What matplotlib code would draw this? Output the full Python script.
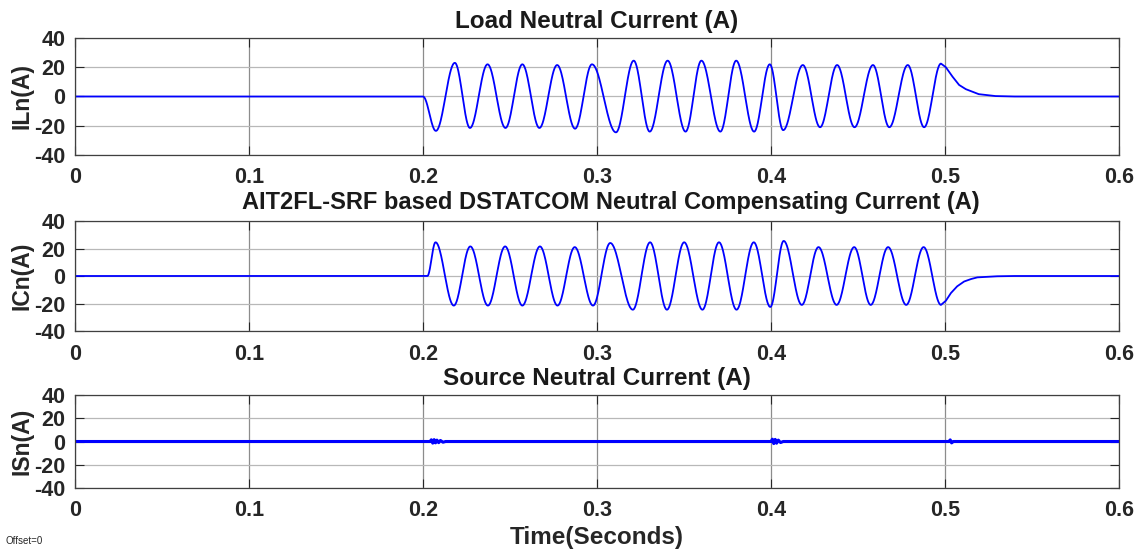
import matplotlib
matplotlib.use("Agg")
import matplotlib.pyplot as plt
import numpy as np

plt.rcParams['font.family'] = ['Liberation Sans', 'DejaVu Sans']

# ---- data (extrema of each half cycle) ----
x_ticks = [0, 0.1, 0.2, 0.3, 0.4, 0.5, 0.6]
x_tick_labels = ['0', '0.1', '0.2', '0.3', '0.4', '0.5', '0.6']
y_ticks = [-40, -20, 0, 20, 40]
y_tick_labels = ['-40', '-20', '0', '20', '40']

# load neutral current: peak times (s) and peak values (A)
iln_peak_t = [0.2, 0.2074, 0.2183, 0.2270, 0.2371, 0.2474, 0.2571, 0.2669, 0.2771,
              0.2874, 0.2971, 0.3109, 0.3211, 0.3303, 0.3406, 0.3509, 0.3600, 0.3709,
              0.3800, 0.3903, 0.3993, 0.4070, 0.4183, 0.4282, 0.4380, 0.4480, 0.4586,
              0.4680, 0.4786, 0.4880, 0.4977]
iln_peak_v = [0, -23.5, 23, -21.5, 22, -21.5, 22, -21.5, 21.5,
              -22, 22, -24.5, 24.5, -24, 24.5, -24, 24.5, -24,
              24.5, -24, 22, -23, 21.5, -21, 21.5, -21, 21.5,
              -21, 21.5, -21, 22.5]
# decay after the load is removed
iln_tail_t = [0.5005, 0.5043, 0.5081, 0.5120, 0.5194, 0.5290, 0.5400, 0.6]
iln_tail_v = [20, 13.6, 7.9, 5.0, 1.6, 0.3, 0, 0]

# DSTATCOM neutral compensating current
icn_peak_t = [0.2025, 0.2072, 0.2177, 0.2272, 0.2373, 0.2472, 0.2571, 0.2672, 0.2773,
              0.2872, 0.2977, 0.3076, 0.3206, 0.3305, 0.3402, 0.3501, 0.3606, 0.3701,
              0.3802, 0.3901, 0.3996, 0.4073, 0.4177, 0.4273, 0.4377, 0.4478, 0.4573,
              0.4673, 0.4777, 0.4877, 0.4977]
icn_peak_v = [0, 24.5, -21.5, 21.5, -21.5, 21.5, -21.5, 21.5, -21.5,
              21, -21.5, 24, -24.5, 24.5, -24.5, 24.5, -24.5, 24.5,
              -24.5, 24.5, -22.5, 25.5, -21, 21, -21, 21, -21,
              21, -21, 21, -21]
icn_tail_t = [0.5005, 0.5034, 0.5070, 0.5110, 0.5150, 0.5186, 0.5300, 0.5400, 0.6]
icn_tail_v = [-18, -12.4, -7.5, -4, -2.2, -1, -0.2, 0, 0]

# source neutral current: flat, small switching bursts
isn_t = [0, 0.2040, 0.2048, 0.2056, 0.2064, 0.2072, 0.2080, 0.2090, 0.2100, 0.2115, 0.2130,
         0.4000, 0.4008, 0.4016, 0.4024, 0.4032, 0.4042, 0.4055, 0.4070,
         0.5022, 0.5030, 0.5038, 0.5048, 0.6]
isn_v = [0, 0, 1.5, -1.4, 1.6, -1.2, 1.2, -1.0, 0.9, -0.6, 0,
         0, 2.0, -1.8, 1.8, -1.5, 1.2, -0.9, 0,
         0, 1.4, -1.2, 0, 0]


def build(peak_t, peak_v, tail_t, tail_v):
    # join successive peaks with half-cosine arcs, then append the decay
    t, v = [0.0], [0.0]
    s = np.linspace(0, 1, 40)[1:]
    for i in range(len(peak_t) - 1):
        t.extend(peak_t[i] + (peak_t[i + 1] - peak_t[i]) * s)
        v.extend(peak_v[i] + (peak_v[i + 1] - peak_v[i]) * (1 - np.cos(np.pi * s)) / 2)
    t.extend(tail_t)
    v.extend(tail_v)
    return np.array(t), np.array(v)


iln_t, iln_v = build(iln_peak_t, iln_peak_v, iln_tail_t, iln_tail_v)
icn_t, icn_v = build(icn_peak_t, icn_peak_v, icn_tail_t, icn_tail_v)

W, H = 1143, 549
fig = plt.figure(figsize=(W / 100, H / 100), dpi=100)


def add_axes(top, bottom):
    return fig.add_axes([75 / W, 1 - bottom / H, 1044 / W, (bottom - top) / H])


ax1 = add_axes(38, 155)
ax2 = add_axes(221, 331)
ax3 = add_axes(395, 488)

ax1.plot(iln_t, iln_v, color='#0000ff', lw=1.3)
ax2.plot(icn_t, icn_v, color='#0000ff', lw=1.3)
ax3.plot(isn_t, isn_v, color='#0000ff', lw=2.2)

titles = ['Load Neutral Current (A)',
          'AIT2FL-SRF based DSTATCOM Neutral Compensating Current (A)',
          'Source Neutral Current (A)']
title_sizes = [17.5, 17, 17.5]
ylabels = ['ILn(A)', 'ICn(A)', 'ISn(A)']
pads = [7, 9, 7]

for i, ax in enumerate([ax1, ax2, ax3]):
    ax.set_xlim(0, 0.6)
    ax.set_ylim(-40, 40)
    ax.set_xticks(x_ticks)
    ax.set_xticklabels(x_tick_labels)
    ax.set_yticks(y_ticks)
    ax.set_yticklabels(y_tick_labels)
    ax.tick_params(direction='in', length=6.5, width=0.8, colors='#262626',
                   labelsize=15.5, top=True, right=True)
    ax.tick_params(axis='x', pad=9)
    ax.tick_params(axis='y', pad=7)
    for lab in ax.get_xticklabels() + ax.get_yticklabels():
        lab.set_fontweight('bold')
    ax.xaxis.grid(True, color='#8c8c8c', lw=0.9)
    ax.yaxis.grid(True, color='#b8b8b8', lw=0.9)
    ax.set_axisbelow(True)
    for sp in ax.spines.values():
        sp.set_color('#404040')
        sp.set_linewidth(0.9)
    ax.set_ylabel(ylabels[i], fontsize=16.5, fontweight='bold', color='#262626')
    ax.yaxis.set_label_coords(-0.040, 0.5)
    ax.set_title(titles[i], fontsize=title_sizes[i], fontweight='bold',
                 color='#1a1a1a', pad=pads[i], x=0.513 if i == 1 else 0.5)

ax3.set_xlabel('Time(Seconds)', fontsize=17.5, fontweight='bold', color='#262626',
               labelpad=3)

fig.text(5 / W, 1 - 541 / H, 'Offset=0', fontsize=7, color='#262626', va='center')

fig.savefig('out.png', dpi=100, facecolor='white')
